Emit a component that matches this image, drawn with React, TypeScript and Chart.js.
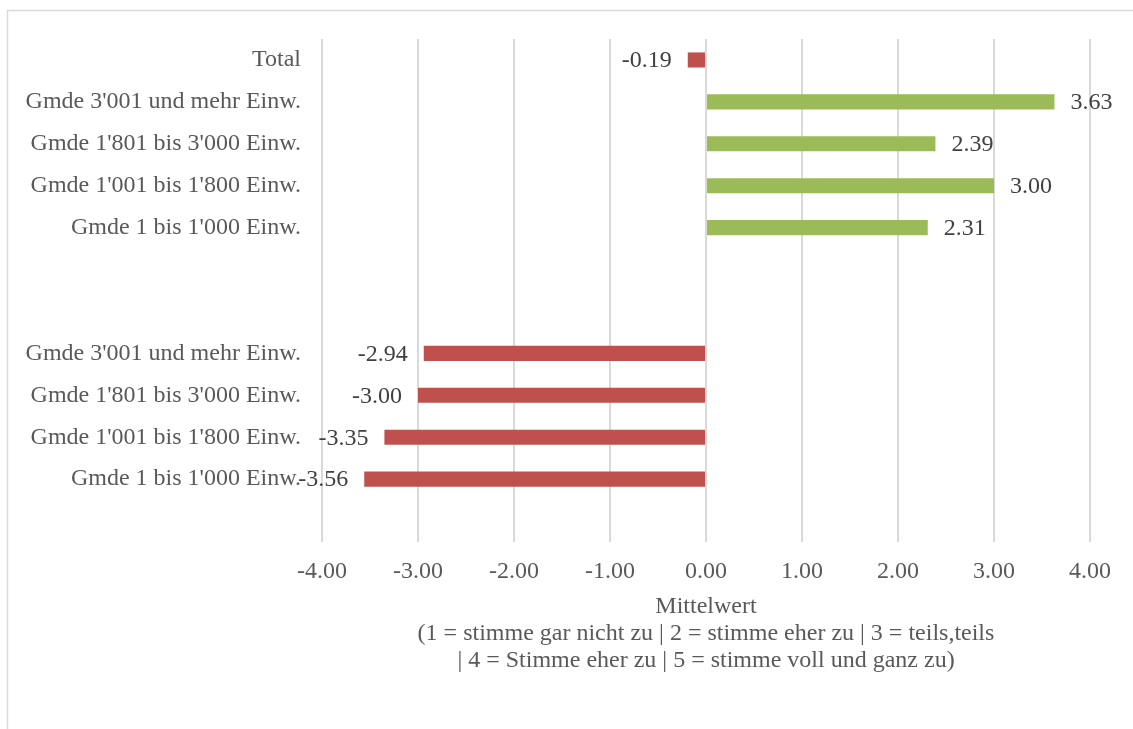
import React, { useEffect, useRef } from "react";
import { Chart, registerables } from "chart.js";

Chart.register(...registerables);

const categories: string[] = [
  "Total",
  "Gmde 3'001 und mehr Einw.",
  "Gmde 1'801 bis 3'000 Einw.",
  "Gmde 1'001 bis 1'800 Einw.",
  "Gmde 1 bis 1'000 Einw.",
  "",
  "",
  "Gmde 3'001 und mehr Einw.",
  "Gmde 1'801 bis 3'000 Einw.",
  "Gmde 1'001 bis 1'800 Einw.",
  "Gmde 1 bis 1'000 Einw.",
  "",
];

const values: (number | null)[] = [-0.19, 3.63, 2.39, 3.0, 2.31, null, null, -2.94, -3.0, -3.35, -3.56, null];

const xTicks: number[] = [-4, -3, -2, -1, 0, 1, 2, 3, 4];

const axisTitle: string[] = [
  "Mittelwert",
  "(1 = stimme gar nicht zu | 2 = stimme eher zu | 3 = teils,teils",
  "| 4 = Stimme eher zu | 5 = stimme voll und ganz zu)",
];

const RED = "#C0504D";
const GREEN = "#9BBB59";
const FONT = "'Liberation Serif', 'Times New Roman', serif";

export default function App() {
  const ref = useRef<HTMLCanvasElement | null>(null);

  useEffect(() => {
    if (!ref.current) return;

    const frame = {
      id: "frame",
      beforeDraw(chart: any) {
        const ctx = chart.ctx;
        ctx.save();
        ctx.fillStyle = "#ffffff";
        ctx.fillRect(0, 0, chart.width, chart.height);
        ctx.strokeStyle = "#d9d9d9";
        ctx.lineWidth = 1.5;
        ctx.strokeRect(7.5, 10.5, chart.width + 20, chart.height + 20);
        ctx.restore();
      },
    };

    const labelsPlugin = {
      id: "valueLabels",
      afterDatasetsDraw(chart: any) {
        const ctx = chart.ctx;
        const meta = chart.getDatasetMeta(0);
        ctx.save();
        ctx.font = `24px ${FONT}`;
        ctx.fillStyle = "#404040";
        ctx.textBaseline = "middle";
        meta.data.forEach((bar: any, i: number) => {
          const v = values[i];
          if (v === null || v === undefined) return;
          if (v >= 0) {
            ctx.textAlign = "left";
            ctx.fillText(v.toFixed(2), bar.x + 16, bar.y + 1);
          } else {
            ctx.textAlign = "right";
            ctx.fillText(v.toFixed(2), bar.x - 16, bar.y + 1);
          }
        });
        ctx.restore();
      },
    };

    const chart = new Chart(ref.current, {
      type: "bar",
      data: {
        labels: categories,
        datasets: [
          {
            data: values as any,
            backgroundColor: values.map((v) => (v !== null && v >= 0 ? GREEN : RED)),
            barPercentage: 0.36,
            categoryPercentage: 1,
          },
        ],
      },
      options: {
        indexAxis: "y",
        responsive: false,
        animation: false,
        layout: { padding: { top: 39, right: 43, left: 0, bottom: 0 } },
        plugins: {
          legend: { display: false },
          tooltip: { enabled: false },
        },
        scales: {
          x: {
            min: -4,
            max: 4,
            afterBuildTicks: (scale: any) => {
              scale.ticks = xTicks.map((v) => ({ value: v }));
            },
            afterFit: (scale: any) => {
              scale.height = 729 - 542;
            },
            grid: {
              color: "#d9d9d9",
              lineWidth: 2,
              drawTicks: false,
            },
            border: { display: false },
            ticks: {
              padding: 15,
              color: "#595959",
              font: { family: FONT, size: 24 },
              callback: (v: any) => Number(v).toFixed(2),
            },
            title: {
              display: true,
              text: axisTitle,
              color: "#595959",
              font: { family: FONT, size: 24, lineHeight: 1.125 },
              padding: { top: 0, bottom: 55 },
            },
          },
          y: {
            afterFit: (scale: any) => {
              scale.width = 322;
            },
            grid: { display: false, drawTicks: false },
            border: { display: false },
            ticks: {
              padding: 21,
              color: "#595959",
              font: { family: FONT, size: 24 },
              autoSkip: false,
            },
          },
        },
      },
      plugins: [frame, labelsPlugin],
    });

    return () => chart.destroy();
  }, []);

  return (
    <div style={{ position: "absolute", left: 0, top: 0, width: 1133, height: 729 }}>
      <canvas ref={ref} width={1133} height={729} style={{ display: "block" }} />
    </div>
  );
}
